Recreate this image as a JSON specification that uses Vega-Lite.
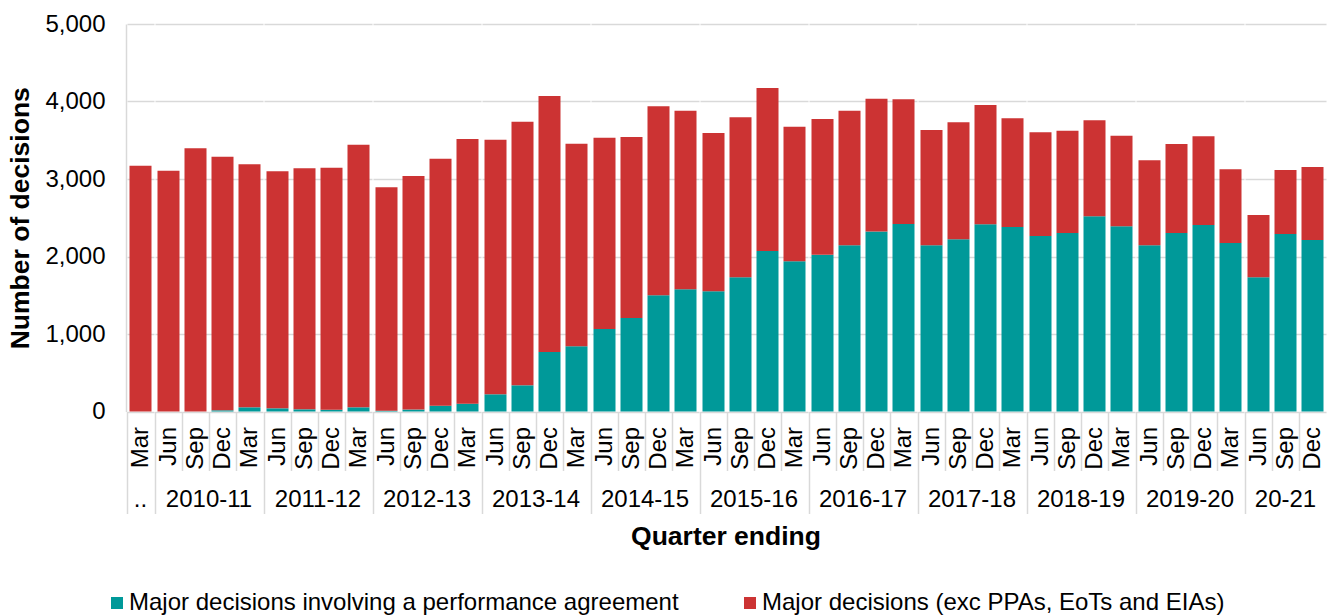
{
  "$schema": "https://vega.github.io/schema/vega-lite/v6.json",
  "padding": {"left": 7, "top": 12, "right": 2, "bottom": 0},
  "background": "white",
  "datasets": {
    "d": [
      {"fy": "..", "month": "Mar", "series": "Major decisions involving a performance agreement", "value": 0},
      {"fy": "..", "month": "Mar", "series": "Major decisions (exc PPAs, EoTs and EIAs)", "value": 3172},
      {"fy": "2010-11", "month": "Jun", "series": "Major decisions involving a performance agreement", "value": 0},
      {"fy": "2010-11", "month": "Jun", "series": "Major decisions (exc PPAs, EoTs and EIAs)", "value": 3107},
      {"fy": "2010-11", "month": "Sep", "series": "Major decisions involving a performance agreement", "value": 0},
      {"fy": "2010-11", "month": "Sep", "series": "Major decisions (exc PPAs, EoTs and EIAs)", "value": 3396},
      {"fy": "2010-11", "month": "Dec", "series": "Major decisions involving a performance agreement", "value": 15},
      {"fy": "2010-11", "month": "Dec", "series": "Major decisions (exc PPAs, EoTs and EIAs)", "value": 3273},
      {"fy": "2010-11", "month": "Mar", "series": "Major decisions involving a performance agreement", "value": 54},
      {"fy": "2010-11", "month": "Mar", "series": "Major decisions (exc PPAs, EoTs and EIAs)", "value": 3136},
      {"fy": "2011-12", "month": "Jun", "series": "Major decisions involving a performance agreement", "value": 41},
      {"fy": "2011-12", "month": "Jun", "series": "Major decisions (exc PPAs, EoTs and EIAs)", "value": 3058},
      {"fy": "2011-12", "month": "Sep", "series": "Major decisions involving a performance agreement", "value": 28},
      {"fy": "2011-12", "month": "Sep", "series": "Major decisions (exc PPAs, EoTs and EIAs)", "value": 3110},
      {"fy": "2011-12", "month": "Dec", "series": "Major decisions involving a performance agreement", "value": 23},
      {"fy": "2011-12", "month": "Dec", "series": "Major decisions (exc PPAs, EoTs and EIAs)", "value": 3123},
      {"fy": "2011-12", "month": "Mar", "series": "Major decisions involving a performance agreement", "value": 54},
      {"fy": "2011-12", "month": "Mar", "series": "Major decisions (exc PPAs, EoTs and EIAs)", "value": 3389},
      {"fy": "2012-13", "month": "Jun", "series": "Major decisions involving a performance agreement", "value": 10},
      {"fy": "2012-13", "month": "Jun", "series": "Major decisions (exc PPAs, EoTs and EIAs)", "value": 2883},
      {"fy": "2012-13", "month": "Sep", "series": "Major decisions involving a performance agreement", "value": 25},
      {"fy": "2012-13", "month": "Sep", "series": "Major decisions (exc PPAs, EoTs and EIAs)", "value": 3014},
      {"fy": "2012-13", "month": "Dec", "series": "Major decisions involving a performance agreement", "value": 75},
      {"fy": "2012-13", "month": "Dec", "series": "Major decisions (exc PPAs, EoTs and EIAs)", "value": 3187},
      {"fy": "2012-13", "month": "Mar", "series": "Major decisions involving a performance agreement", "value": 101},
      {"fy": "2012-13", "month": "Mar", "series": "Major decisions (exc PPAs, EoTs and EIAs)", "value": 3415},
      {"fy": "2013-14", "month": "Jun", "series": "Major decisions involving a performance agreement", "value": 222},
      {"fy": "2013-14", "month": "Jun", "series": "Major decisions (exc PPAs, EoTs and EIAs)", "value": 3285},
      {"fy": "2013-14", "month": "Sep", "series": "Major decisions involving a performance agreement", "value": 338},
      {"fy": "2013-14", "month": "Sep", "series": "Major decisions (exc PPAs, EoTs and EIAs)", "value": 3402},
      {"fy": "2013-14", "month": "Dec", "series": "Major decisions involving a performance agreement", "value": 768},
      {"fy": "2013-14", "month": "Dec", "series": "Major decisions (exc PPAs, EoTs and EIAs)", "value": 3303},
      {"fy": "2013-14", "month": "Mar", "series": "Major decisions involving a performance agreement", "value": 841},
      {"fy": "2013-14", "month": "Mar", "series": "Major decisions (exc PPAs, EoTs and EIAs)", "value": 2615},
      {"fy": "2014-15", "month": "Jun", "series": "Major decisions involving a performance agreement", "value": 1065},
      {"fy": "2014-15", "month": "Jun", "series": "Major decisions (exc PPAs, EoTs and EIAs)", "value": 2468},
      {"fy": "2014-15", "month": "Sep", "series": "Major decisions involving a performance agreement", "value": 1206},
      {"fy": "2014-15", "month": "Sep", "series": "Major decisions (exc PPAs, EoTs and EIAs)", "value": 2336},
      {"fy": "2014-15", "month": "Dec", "series": "Major decisions involving a performance agreement", "value": 1499},
      {"fy": "2014-15", "month": "Dec", "series": "Major decisions (exc PPAs, EoTs and EIAs)", "value": 2439},
      {"fy": "2014-15", "month": "Mar", "series": "Major decisions involving a performance agreement", "value": 1576},
      {"fy": "2014-15", "month": "Mar", "series": "Major decisions (exc PPAs, EoTs and EIAs)", "value": 2306},
      {"fy": "2015-16", "month": "Jun", "series": "Major decisions involving a performance agreement", "value": 1551},
      {"fy": "2015-16", "month": "Jun", "series": "Major decisions (exc PPAs, EoTs and EIAs)", "value": 2043},
      {"fy": "2015-16", "month": "Sep", "series": "Major decisions involving a performance agreement", "value": 1731},
      {"fy": "2015-16", "month": "Sep", "series": "Major decisions (exc PPAs, EoTs and EIAs)", "value": 2065},
      {"fy": "2015-16", "month": "Dec", "series": "Major decisions involving a performance agreement", "value": 2071},
      {"fy": "2015-16", "month": "Dec", "series": "Major decisions (exc PPAs, EoTs and EIAs)", "value": 2103},
      {"fy": "2015-16", "month": "Mar", "series": "Major decisions involving a performance agreement", "value": 1938},
      {"fy": "2015-16", "month": "Mar", "series": "Major decisions (exc PPAs, EoTs and EIAs)", "value": 1737},
      {"fy": "2016-17", "month": "Jun", "series": "Major decisions involving a performance agreement", "value": 2024},
      {"fy": "2016-17", "month": "Jun", "series": "Major decisions (exc PPAs, EoTs and EIAs)", "value": 1750},
      {"fy": "2016-17", "month": "Sep", "series": "Major decisions involving a performance agreement", "value": 2144},
      {"fy": "2016-17", "month": "Sep", "series": "Major decisions (exc PPAs, EoTs and EIAs)", "value": 1738},
      {"fy": "2016-17", "month": "Dec", "series": "Major decisions involving a performance agreement", "value": 2321},
      {"fy": "2016-17", "month": "Dec", "series": "Major decisions (exc PPAs, EoTs and EIAs)", "value": 1716},
      {"fy": "2016-17", "month": "Mar", "series": "Major decisions involving a performance agreement", "value": 2419},
      {"fy": "2016-17", "month": "Mar", "series": "Major decisions (exc PPAs, EoTs and EIAs)", "value": 1609},
      {"fy": "2017-18", "month": "Jun", "series": "Major decisions involving a performance agreement", "value": 2144},
      {"fy": "2017-18", "month": "Jun", "series": "Major decisions (exc PPAs, EoTs and EIAs)", "value": 1488},
      {"fy": "2017-18", "month": "Sep", "series": "Major decisions involving a performance agreement", "value": 2221},
      {"fy": "2017-18", "month": "Sep", "series": "Major decisions (exc PPAs, EoTs and EIAs)", "value": 1510},
      {"fy": "2017-18", "month": "Dec", "series": "Major decisions involving a performance agreement", "value": 2415},
      {"fy": "2017-18", "month": "Dec", "series": "Major decisions (exc PPAs, EoTs and EIAs)", "value": 1540},
      {"fy": "2017-18", "month": "Mar", "series": "Major decisions involving a performance agreement", "value": 2381},
      {"fy": "2017-18", "month": "Mar", "series": "Major decisions (exc PPAs, EoTs and EIAs)", "value": 1402},
      {"fy": "2018-19", "month": "Jun", "series": "Major decisions involving a performance agreement", "value": 2265},
      {"fy": "2018-19", "month": "Jun", "series": "Major decisions (exc PPAs, EoTs and EIAs)", "value": 1337},
      {"fy": "2018-19", "month": "Sep", "series": "Major decisions involving a performance agreement", "value": 2303},
      {"fy": "2018-19", "month": "Sep", "series": "Major decisions (exc PPAs, EoTs and EIAs)", "value": 1321},
      {"fy": "2018-19", "month": "Dec", "series": "Major decisions involving a performance agreement", "value": 2518},
      {"fy": "2018-19", "month": "Dec", "series": "Major decisions (exc PPAs, EoTs and EIAs)", "value": 1239},
      {"fy": "2018-19", "month": "Mar", "series": "Major decisions involving a performance agreement", "value": 2389},
      {"fy": "2018-19", "month": "Mar", "series": "Major decisions (exc PPAs, EoTs and EIAs)", "value": 1170},
      {"fy": "2019-20", "month": "Jun", "series": "Major decisions involving a performance agreement", "value": 2144},
      {"fy": "2019-20", "month": "Jun", "series": "Major decisions (exc PPAs, EoTs and EIAs)", "value": 1097},
      {"fy": "2019-20", "month": "Sep", "series": "Major decisions involving a performance agreement", "value": 2303},
      {"fy": "2019-20", "month": "Sep", "series": "Major decisions (exc PPAs, EoTs and EIAs)", "value": 1149},
      {"fy": "2019-20", "month": "Dec", "series": "Major decisions involving a performance agreement", "value": 2406},
      {"fy": "2019-20", "month": "Dec", "series": "Major decisions (exc PPAs, EoTs and EIAs)", "value": 1145},
      {"fy": "2019-20", "month": "Mar", "series": "Major decisions involving a performance agreement", "value": 2174},
      {"fy": "2019-20", "month": "Mar", "series": "Major decisions (exc PPAs, EoTs and EIAs)", "value": 951},
      {"fy": "20-21", "month": "Jun", "series": "Major decisions involving a performance agreement", "value": 1731},
      {"fy": "20-21", "month": "Jun", "series": "Major decisions (exc PPAs, EoTs and EIAs)", "value": 804},
      {"fy": "20-21", "month": "Sep", "series": "Major decisions involving a performance agreement", "value": 2290},
      {"fy": "20-21", "month": "Sep", "series": "Major decisions (exc PPAs, EoTs and EIAs)", "value": 826},
      {"fy": "20-21", "month": "Dec", "series": "Major decisions involving a performance agreement", "value": 2213},
      {"fy": "20-21", "month": "Dec", "series": "Major decisions (exc PPAs, EoTs and EIAs)", "value": 942}
    ]
  },
  "data": {"name": "d"},
  "facet": {
    "column": {
      "field": "fy",
      "type": "nominal",
      "sort": ["..", "2010-11", "2011-12", "2012-13", "2013-14", "2014-15", "2015-16", "2016-17", "2017-18", "2018-19", "2019-20", "20-21"],
      "title": "Quarter ending",
      "header": {
        "labelOrient": "bottom",
        "titleOrient": "bottom",
        "labelFontSize": 24,
        "labelPadding": -27,
        "labelColor": "black",
        "labelFont": "Liberation Sans",
        "titleFontSize": 26.5,
        "titleFontWeight": "bold",
        "titleColor": "black",
        "titleFont": "Liberation Sans",
        "titlePadding": -1
      }
    }
  },
  "spacing": {"column": 0, "row": 0},
  "resolve": {"scale": {"x": "independent"}},
  "spec": {
    "width": {"step": 27.0},
    "height": 387.5,
    "mark": {"type": "bar"},
    "encoding": {
      "x": {
        "field": "month",
        "type": "nominal",
        "sort": ["Jun", "Sep", "Dec", "Mar"],
        "scale": {"paddingInner": 0.185, "paddingOuter": 0.0925},
        "axis": {
          "title": null,
          "labelAngle": -90,
          "labelFontSize": 24,
          "labelFont": "Liberation Sans",
          "labelColor": "black",
          "labelPadding": {"condition": {"test": "datum.index === 0", "value": -87}, "value": -44},
          "bandPosition": 0,
          "tickOffset": -2.5,
          "labelOffset": 2.5,
          "tickSize": {"condition": {"test": "datum.index === 0", "value": 102}, "value": 59},
          "tickColor": "#d9d9d9",
          "tickWidth": 1.5,
          "domain": false,
          "grid": false
        }
      },
      "y": {
        "field": "value",
        "type": "quantitative",
        "stack": "zero",
        "scale": {"domain": [0, 5000]},
        "axis": {
          "values": [0, 1000, 2000, 3000, 4000, 5000],
          "format": ",.0f",
          "title": "Number of decisions",
          "titleFontSize": 26.5,
          "titleFontWeight": "bold",
          "titleFont": "Liberation Sans",
          "titleColor": "black",
          "titlePadding": 10,
          "labelFontSize": 24,
          "labelFont": "Liberation Sans",
          "labelColor": "black",
          "labelPadding": 21,
          "ticks": false,
          "gridColor": "#d9d9d9",
          "gridWidth": 1.5,
          "domainColor": "#d9d9d9",
          "domainWidth": 1.5
        }
      },
      "color": {
        "field": "series",
        "type": "nominal",
        "sort": ["Major decisions involving a performance agreement", "Major decisions (exc PPAs, EoTs and EIAs)"],
        "scale": {
          "domain": ["Major decisions involving a performance agreement", "Major decisions (exc PPAs, EoTs and EIAs)"],
          "range": ["#009999", "#cc3333"]
        },
        "legend": {
          "orient": "none",
          "legendX": -22,
          "legendY": 567,
          "direction": "horizontal",
          "title": null,
          "symbolType": "square",
          "symbolSize": 144,
          "symbolStrokeWidth": 0,
          "labelFontSize": 24,
          "labelFont": "Liberation Sans",
          "labelColor": "black",
          "labelOffset": 0,
          "columnPadding": 59,
          "labelLimit": 800
        }
      }
    }
  },
  "config": {
    "font": "Liberation Sans",
    "view": {"stroke": null},
    "facet": {"spacing": 0}
  }
}
